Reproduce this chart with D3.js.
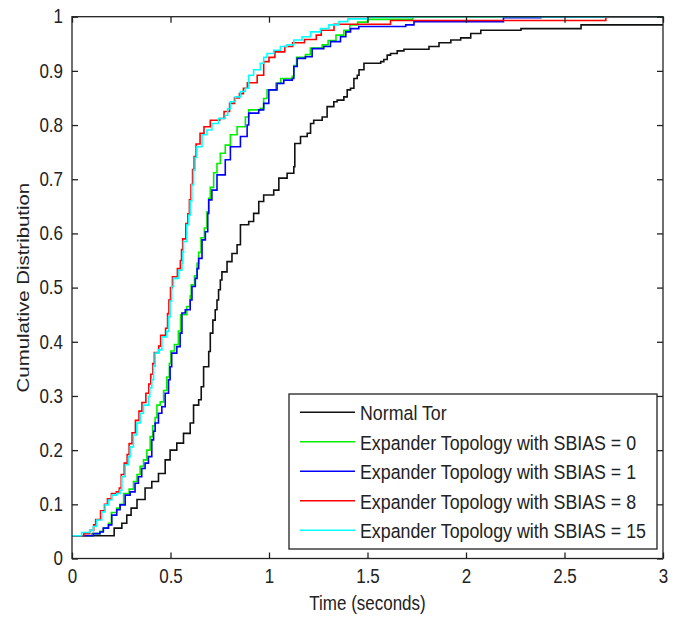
<!DOCTYPE html>
<html>
<head>
	<title>Cumulative Distribution</title>
	<script src="https://d3js.org/d3.v7.min.js"></script>
	<style>
		body { margin: 0; background: #fff; overflow: hidden; }
		svg { display: block; }
		text { font-family: "Liberation Sans", Arial, sans-serif; fill: #222; }
	</style>
</head>
<body>
	<script type="text/javascript">
		// step points [time, cumulative fraction]
		var normalTor = [[0,0.042],[0.214,0.056],[0.253,0.065],[0.278,0.08],[0.30,0.093],[0.33,0.109],[0.371,0.13],[0.405,0.142],[0.439,0.157],[0.473,0.182],[0.498,0.2],[0.532,0.213],[0.566,0.231],[0.60,0.25],[0.617,0.283],[0.643,0.293],[0.656,0.317],[0.668,0.354],[0.694,0.382],[0.702,0.416],[0.715,0.44],[0.727,0.459],[0.736,0.477],[0.744,0.496],[0.753,0.514],[0.761,0.529],[0.787,0.548],[0.812,0.563],[0.838,0.579],[0.855,0.616],[0.897,0.622],[0.922,0.637],[0.948,0.659],[0.973,0.671],[1.024,0.68],[1.05,0.702],[1.092,0.711],[1.126,0.723],[1.131,0.766],[1.16,0.779],[1.194,0.785],[1.211,0.803],[1.227,0.809],[1.27,0.815],[1.295,0.834],[1.329,0.843],[1.346,0.846],[1.38,0.852],[1.397,0.865],[1.414,0.868],[1.431,0.886],[1.448,0.892],[1.457,0.902],[1.482,0.914],[1.567,0.917],[1.583,0.921],[1.60,0.929],[1.617,0.932],[1.651,0.937],[1.685,0.94],[1.812,0.945],[1.863,0.952],[1.923,0.957],[1.973,0.961],[2.024,0.969],[2.075,0.975],[2.279,0.978],[2.584,0.985],[3,0.985]];

		var sbias0 = [[0,0.042],[0.1,0.046],[0.142,0.05],[0.159,0.056],[0.185,0.065],[0.2,0.085],[0.227,0.093],[0.244,0.1],[0.262,0.12],[0.29,0.128],[0.312,0.142],[0.33,0.155],[0.346,0.17],[0.363,0.182],[0.38,0.2],[0.397,0.225],[0.41,0.245],[0.422,0.26],[0.431,0.283],[0.448,0.289],[0.465,0.31],[0.481,0.335],[0.494,0.36],[0.502,0.383],[0.52,0.395],[0.54,0.42],[0.551,0.45],[0.583,0.465],[0.6,0.485],[0.605,0.505],[0.622,0.522],[0.635,0.545],[0.643,0.565],[0.655,0.592],[0.672,0.61],[0.685,0.64],[0.694,0.665],[0.702,0.685],[0.719,0.712],[0.736,0.729],[0.753,0.748],[0.778,0.763],[0.804,0.782],[0.838,0.797],[0.88,0.815],[0.897,0.828],[0.956,0.831],[0.973,0.849],[0.99,0.865],[1.035,0.877],[1.06,0.886],[1.118,0.89],[1.126,0.91],[1.14,0.925],[1.185,0.93],[1.21,0.942],[1.27,0.948],[1.3,0.956],[1.34,0.966],[1.38,0.975],[1.41,0.985],[1.45,0.99],[1.5,0.995],[1.73,1.0],[3,1.0]];

		var sbias1 = [[0,0.042],[0.108,0.046],[0.142,0.049],[0.159,0.056],[0.185,0.062],[0.202,0.08],[0.227,0.09],[0.244,0.099],[0.27,0.117],[0.295,0.123],[0.32,0.139],[0.337,0.151],[0.354,0.166],[0.371,0.176],[0.388,0.188],[0.405,0.219],[0.414,0.235],[0.422,0.25],[0.439,0.268],[0.456,0.28],[0.473,0.305],[0.49,0.33],[0.498,0.354],[0.506,0.379],[0.532,0.391],[0.549,0.416],[0.558,0.453],[0.575,0.459],[0.6,0.477],[0.609,0.502],[0.626,0.517],[0.635,0.535],[0.643,0.554],[0.66,0.588],[0.677,0.603],[0.689,0.637],[0.694,0.662],[0.71,0.68],[0.736,0.708],[0.778,0.736],[0.804,0.76],[0.855,0.779],[0.889,0.8],[0.897,0.822],[0.948,0.828],[0.973,0.84],[0.999,0.865],[1.041,0.877],[1.075,0.883],[1.118,0.886],[1.126,0.908],[1.143,0.923],[1.185,0.926],[1.219,0.941],[1.278,0.945],[1.312,0.954],[1.363,0.963],[1.39,0.972],[1.414,0.978],[1.456,0.982],[1.694,0.985],[1.736,0.991],[2.19,0.998],[2.38,1.0],[3,1.0]];

		var sbias8 = [[0,0.042],[0.06,0.046],[0.09,0.052],[0.11,0.062],[0.12,0.072],[0.145,0.088],[0.165,0.1],[0.18,0.11],[0.2,0.12],[0.225,0.123],[0.24,0.13],[0.25,0.155],[0.265,0.176],[0.28,0.192],[0.29,0.212],[0.305,0.232],[0.322,0.255],[0.34,0.272],[0.355,0.288],[0.375,0.305],[0.39,0.322],[0.4,0.34],[0.41,0.36],[0.418,0.38],[0.44,0.392],[0.45,0.412],[0.475,0.425],[0.485,0.452],[0.492,0.477],[0.5,0.5],[0.51,0.52],[0.535,0.535],[0.55,0.55],[0.556,0.57],[0.562,0.59],[0.578,0.618],[0.588,0.636],[0.596,0.662],[0.604,0.69],[0.612,0.718],[0.62,0.742],[0.63,0.765],[0.65,0.785],[0.67,0.797],[0.702,0.809],[0.75,0.812],[0.772,0.825],[0.8,0.84],[0.825,0.85],[0.85,0.858],[0.87,0.868],[0.89,0.878],[0.94,0.892],[0.973,0.917],[1.0,0.925],[1.03,0.935],[1.08,0.945],[1.12,0.952],[1.18,0.958],[1.24,0.966],[1.265,0.975],[1.33,0.986],[1.617,0.993],[2.71,0.999],[3,0.999]];

		var sbias15 = [[0,0.042],[0.049,0.048],[0.09,0.052],[0.108,0.059],[0.125,0.071],[0.151,0.086],[0.168,0.099],[0.185,0.108],[0.202,0.117],[0.227,0.12],[0.244,0.126],[0.253,0.151],[0.27,0.173],[0.286,0.188],[0.295,0.206],[0.312,0.228],[0.329,0.25],[0.346,0.268],[0.363,0.283],[0.388,0.299],[0.395,0.315],[0.405,0.33],[0.414,0.355],[0.422,0.379],[0.439,0.385],[0.456,0.409],[0.481,0.419],[0.49,0.446],[0.498,0.475],[0.506,0.502],[0.515,0.517],[0.541,0.532],[0.558,0.545],[0.562,0.565],[0.566,0.585],[0.583,0.616],[0.592,0.634],[0.6,0.66],[0.608,0.69],[0.617,0.717],[0.625,0.74],[0.634,0.76],[0.66,0.782],[0.685,0.791],[0.71,0.803],[0.744,0.812],[0.778,0.818],[0.79,0.83],[0.804,0.843],[0.829,0.852],[0.855,0.862],[0.88,0.868],[0.897,0.892],[0.922,0.902],[0.956,0.914],[0.973,0.925],[0.99,0.932],[1.024,0.938],[1.058,0.945],[1.092,0.948],[1.126,0.957],[1.168,0.963],[1.211,0.972],[1.261,0.978],[1.304,0.985],[1.355,0.991],[1.4,0.996],[1.5,0.999],[1.73,1.0],[3,1.0]];

		var seriesNames = ["Normal Tor", "Expander Topology with SBIAS = 0", "Expander Topology with SBIAS = 1", "Expander Topology with SBIAS = 8", "Expander Topology with SBIAS = 15"];
		var seriesData = [normalTor, sbias0, sbias1, sbias8, sbias15];
		var seriesColors = ["#111", "#00ee00", "#0000ff", "#ff0000", "#00ffff"];

		var xTicks = [0, 0.5, 1, 1.5, 2, 2.5, 3];
		var yTicks = [0, 0.1, 0.2, 0.3, 0.4, 0.5, 0.6, 0.7, 0.8, 0.9, 1];

		// size of the page and the plot box (window.top is taken, so plotTop etc.)
		var width = 683, height = 621;
		var plotLeft = 72, plotRight = 663, plotTop = 16.7, plotBottom = 558.5;
		var stretch = "scale(1,1.15)"; // text in the picture is a bit taller than wide

		var x = d3.scaleLinear().domain([0, 3]).range([plotLeft, plotRight]);
		var y = d3.scaleLinear().domain([0, 1]).range([plotBottom, plotTop]);

		var svg = d3.select("body").append("svg")
					.attr("width", width)
					.attr("height", height);

		// the curves
		var line = d3.line()
					 .x(function(d) { return x(d[0]); })
					 .y(function(d) { return y(d[1]); })
					 .curve(d3.curveStepAfter);

		svg.selectAll("path.curve")
		   .data(seriesData)
		   .enter()
		   .append("path")
		   .attr("class", "curve")
		   .attr("d", line)
		   .attr("fill", "none")
		   .attr("stroke", function(d, i) { return seriesColors[i]; })
		   .attr("stroke-width", 1.6);

		// axes: ticks point inwards on all four sides
		var fmt = d3.format("~g");
		svg.append("g").attr("transform", "translate(0," + plotBottom + ")")
		   .call(d3.axisBottom(x).tickValues(xTicks).tickFormat(fmt).tickSize(-6).tickPadding(9));
		svg.append("g").attr("transform", "translate(" + plotLeft + ",0)")
		   .call(d3.axisLeft(y).tickValues(yTicks).tickFormat(fmt).tickSize(-6).tickPadding(9));
		svg.append("g").attr("transform", "translate(0," + plotTop + ")")
		   .call(d3.axisTop(x).tickValues(xTicks).tickFormat("").tickSize(-6));
		svg.append("g").attr("transform", "translate(" + plotRight + ",0)")
		   .call(d3.axisRight(y).tickValues(yTicks).tickFormat("").tickSize(-6));

		svg.selectAll(".domain").remove();
		svg.selectAll(".tick line").attr("stroke", "#222").attr("stroke-width", 1.3);
		svg.selectAll(".tick text")
		   .attr("font-size", 17)
		   .attr("font-family", "Liberation Sans, Arial, sans-serif")
		   .attr("fill", "#222")
		   .attr("transform", stretch);

		svg.append("rect")
		   .attr("x", plotLeft).attr("y", plotTop)
		   .attr("width", plotRight - plotLeft).attr("height", plotBottom - plotTop)
		   .attr("fill", "none")
		   .attr("stroke", "#222")
		   .attr("stroke-width", 1.3);

		// axis titles
		svg.append("text")
		   .attr("transform", "translate(" + (plotLeft + plotRight) / 2 + ",610) " + stretch)
		   .attr("text-anchor", "middle")
		   .attr("font-size", 17)
		   .text("Time (seconds)");

		svg.append("text")
		   .attr("transform", "translate(29," + (plotTop + plotBottom) / 2 + ") scale(1,1.2) rotate(-90)")
		   .attr("text-anchor", "middle")
		   .attr("font-size", 17)
		   .text("Cumulative Distribution");

		// legend
		var legend = svg.append("g");
		legend.append("rect")
			  .attr("x", 289).attr("y", 394)
			  .attr("width", 368).attr("height", 155)
			  .attr("fill", "#fff")
			  .attr("stroke", "#222")
			  .attr("stroke-width", 1.3);

		var rows = legend.selectAll("g.row")
						 .data(seriesNames)
						 .enter()
						 .append("g")
						 .attr("class", "row")
						 .attr("transform", function(d, i) { return "translate(300," + (412.3 + i * 29.5) + ")"; });

		rows.append("line")
			.attr("x1", 0).attr("x2", 55)
			.attr("stroke", function(d, i) { return seriesColors[i]; })
			.attr("stroke-width", 1.6);

		rows.append("text")
			.attr("transform", "translate(60,0) " + stretch)
			.attr("dy", 7)
			.attr("font-size", 17.8)
			.text(function(d) { return d; });
	</script>
</body>
</html>
